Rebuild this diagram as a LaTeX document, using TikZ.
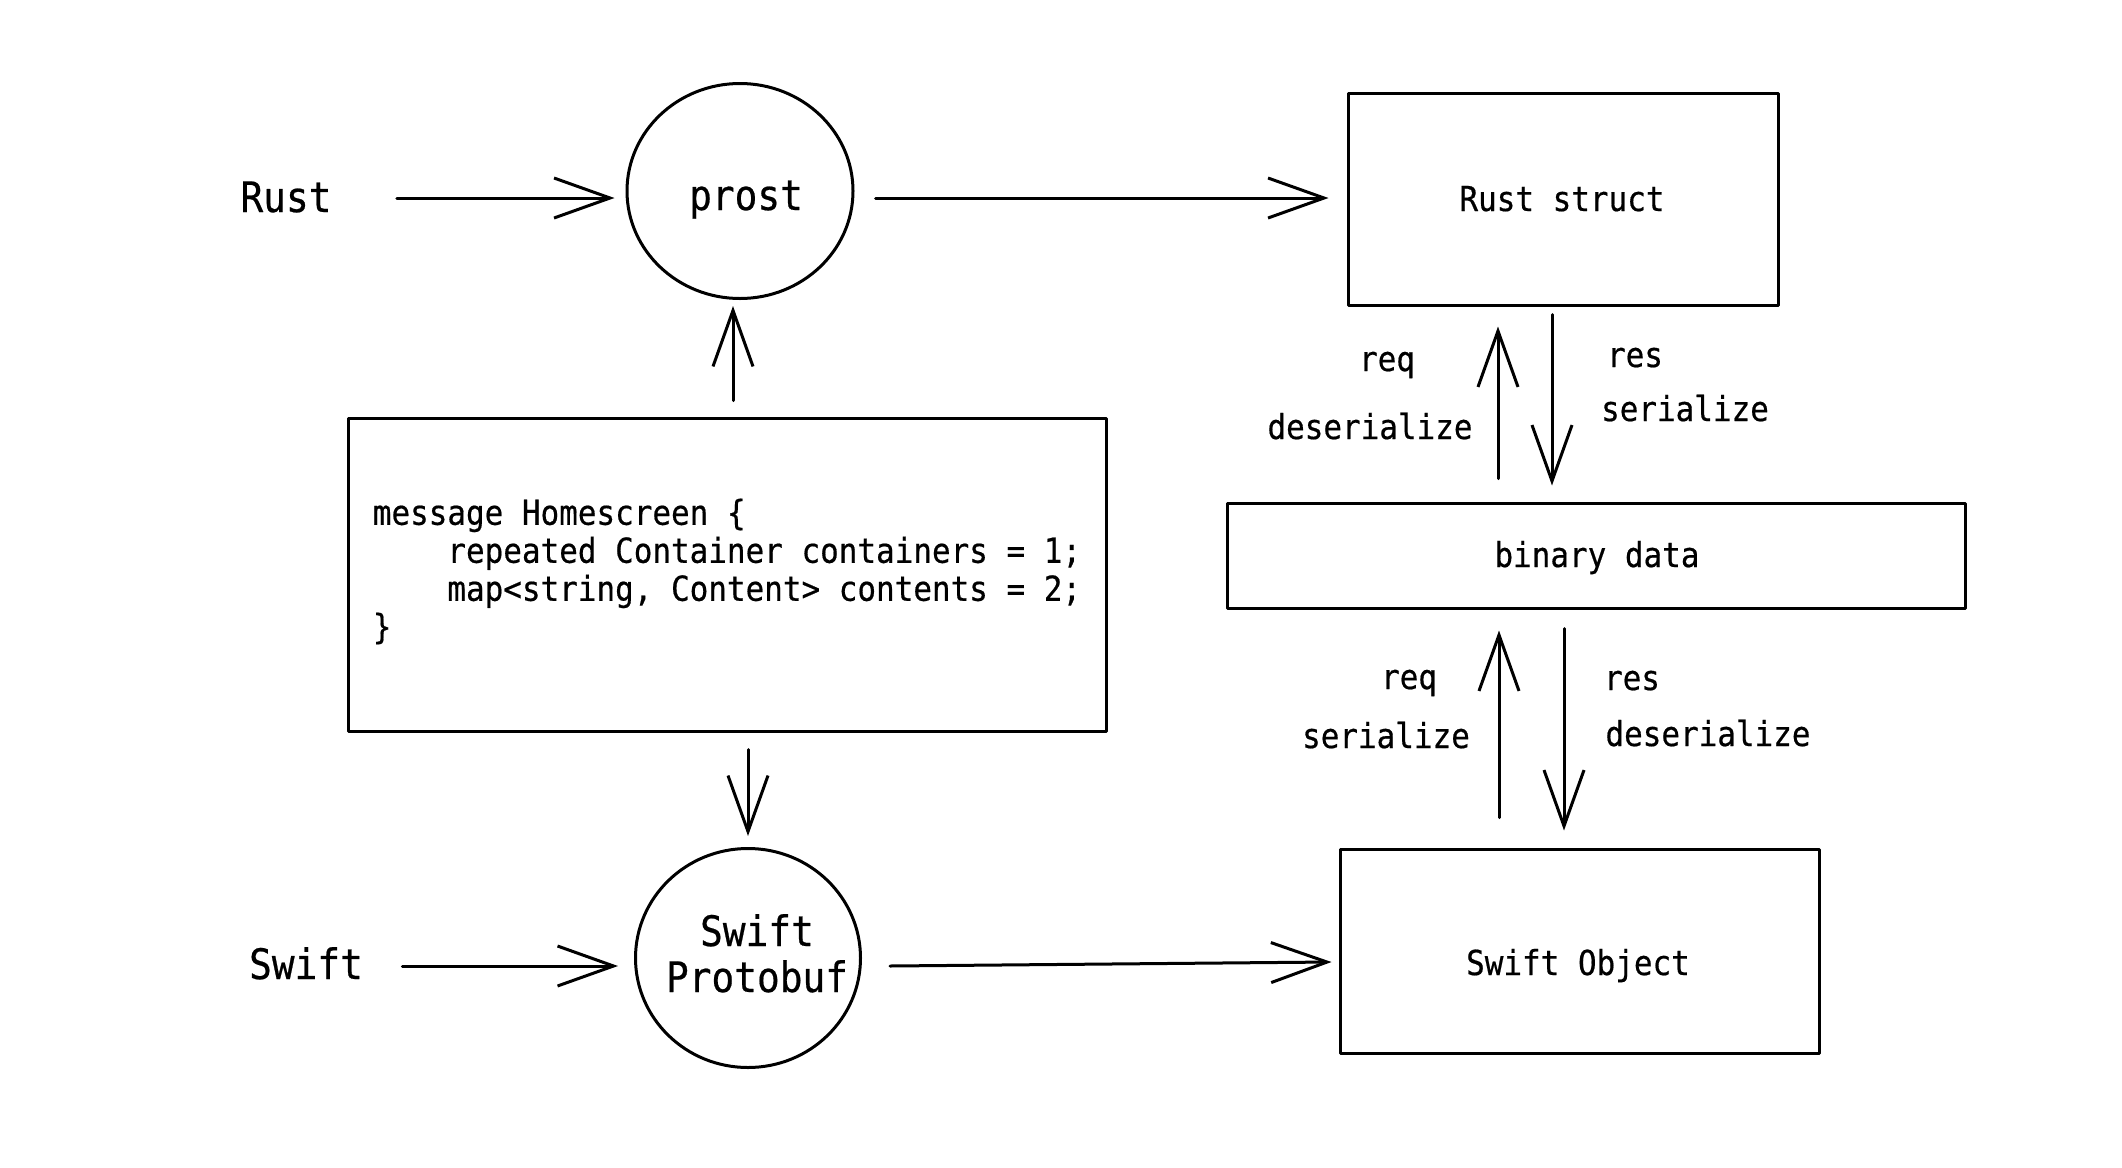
\documentclass[tikz,border=0pt]{standalone}
\usepackage{fontspec}
\newfontfamily\sketchmono{DejaVu Sans Mono}[FakeStretch=0.9, FakeBold=0.5]
\usetikzlibrary{shapes.geometric,arrows.meta}
\begin{document}
\begin{tikzpicture}[x=0.5pt,y=-0.5pt,
  line join=round, line cap=round,
  big/.style={font=\fontsize{21}{25}\selectfont\sketchmono, inner sep=0pt, align=center},
  small/.style={font=\fontsize{17.2}{19}\selectfont\sketchmono, inner sep=0pt},
  box/.style={draw, line width=1.5pt},
  arr/.style={-{Straight Barb[length=28pt,width=20pt,line width=1.5pt]}, line width=1.5pt},
]
\fill[white] (0,0) rectangle (2122,1168);
\useasboundingbox (0,0) rectangle (2122,1168);

% main nodes
\node[big, anchor=base] (rust) at (286,212) {Rust};
\node[ellipse, box, inner sep=0pt, minimum width=113pt, minimum height=107.5pt] (prost) at (740,191) {};
\node[big, anchor=base] (prostt) at (746,210) {prost};
\node[box, minimum width=215pt, minimum height=106pt] (rs) at (1563,199) {};
\node[small, anchor=base] (rst) at (1562,211) {Rust struct};
\node[box, minimum width=379pt, minimum height=156.5pt] (msg) at (727,574.5) {};
\node[small, align=left] (msgt) at (727,571.5)
  {message Homescreen \{\\
   \hphantom{xxxx}repeated Container containers = 1;\\
   \hphantom{xxxx}map<string, Content> contents = 2;\\
   \}};
\node[big, anchor=base] (swift) at (306,979) {Swift};
\node[ellipse, box, inner sep=0pt, minimum width=112.5pt, minimum height=109.5pt] (sp) at (748,958) {};
\node[big, anchor=base] (spt1) at (757,946) {Swift};
\node[big, anchor=base] (spt2) at (757,992) {Protobuf};
\node[box, minimum width=239.5pt, minimum height=102pt] (so) at (1579.5,951) {};
\node[small, anchor=base] (sot) at (1578,975) {Swift Object};
\node[box, minimum width=369pt, minimum height=52.5pt] (bin) at (1596,555.5) {};
\node[small, anchor=base] (bint) at (1597,567) {binary data};

% labels
\node[small, anchor=base] (l1) at (1387,371) {req};
\node[small, anchor=base] (l2) at (1370,439) {deserialize};
\node[small, anchor=base] (l3) at (1635,367) {res};
\node[small, anchor=base] (l4) at (1685,421) {serialize};
\node[small, anchor=base] (l5) at (1409,689) {req};
\node[small, anchor=base] (l6) at (1386,748) {serialize};
\node[small, anchor=base] (l7) at (1632,690) {res};
\node[small, anchor=base] (l8) at (1708,746) {deserialize};

% connectors
\draw[arr] ([xshift=32.5pt]rust.east |- prost.west) ++(0,7) -- ([xshift=-5.5pt,yshift=-3.5pt]prost.west);
\draw[arr] ([xshift=10.5pt,yshift=-3.5pt]prost.east) -- ([xshift=-9pt,yshift=0.5pt]rs.west);
\draw[arr] ([xshift=3pt,yshift=8pt]msg.north) -- ([xshift=-3.5pt,yshift=-3pt]prost.south);
\draw[arr] ([xshift=10.5pt,yshift=-8.5pt]msg.south) -- ([yshift=5.5pt]sp.north);
\draw[arr] ([xshift=19.5pt]swift.east |- sp.west) ++(0,8) -- ([xshift=-8pt,yshift=-4pt]sp.west);
\draw[arr] ([xshift=14pt,yshift=-4pt]sp.east) -- ([xshift=-3.5pt,yshift=-5.5pt]so.west);
\draw[arr] ([xshift=-49pt,yshift=11.5pt]bin.north) -- ([xshift=-32.5pt,yshift=-10pt]rs.south);
\draw[arr] ([xshift=-5.5pt,yshift=-4pt]rs.south) -- ([xshift=-22pt,yshift=8pt]bin.north);
\draw[arr] ([xshift=-40.25pt,yshift=15pt]so.north) -- ([xshift=-48.5pt,yshift=-10.5pt]bin.south);
\draw[arr] ([xshift=-16pt,yshift=-9.5pt]bin.south) -- ([xshift=-7.75pt,yshift=8.5pt]so.north);
\end{tikzpicture}
\end{document}
